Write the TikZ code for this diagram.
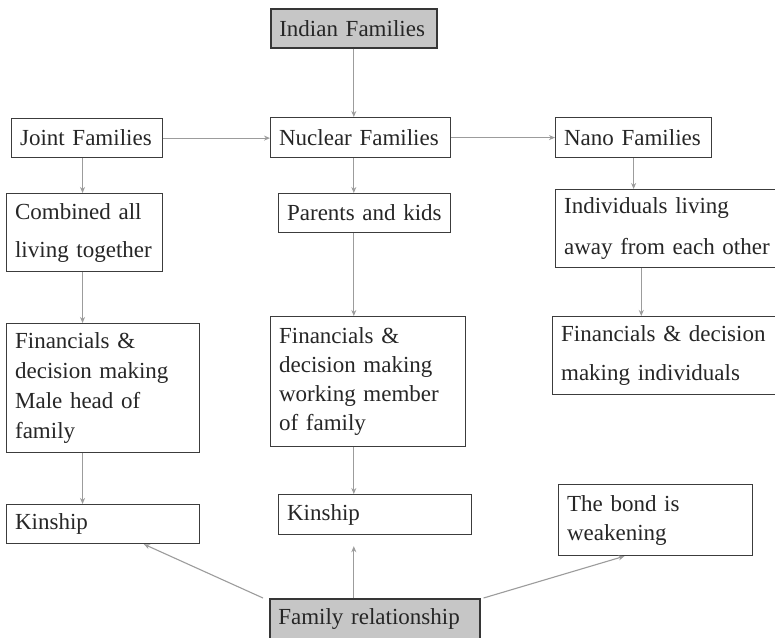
\documentclass[tikz,border=0pt]{standalone}
\usepackage{fontspec}
\setmainfont{Liberation Serif}[WordSpace=0.8]
\usetikzlibrary{arrows.meta,calc}
\definecolor{boxc}{HTML}{3C3C3C}
\definecolor{linec}{HTML}{9C9C9C}
\definecolor{fillg}{HTML}{C6C6C6}
\definecolor{txt}{HTML}{262626}
\tikzset{
  box/.style={draw=boxc, line width=1.2pt, fill=white, inner xsep=8.5pt, inner ysep=2pt,
    align=left, anchor=north west, text=txt, font=\fontsize{23}{30}\selectfont},
  graybox/.style={box, fill=fillg, line width=1.6pt, draw=boxc!90!black},
  arr/.style={draw=linec, line width=1.1pt, -{Stealth[length=6pt,width=5pt]}}
}
\begin{document}
\begin{tikzpicture}[x=1pt,y=-1pt]
\useasboundingbox (0,0) rectangle (775,637);
\fill[white] (0,0) rectangle (775,637);

\node[graybox, text width=149pt, minimum height=39pt] (in) at (270,8) {Indian Families};
\node[box, text width=134pt, minimum height=39pt] (jf) at (11,118) {Joint Families};
\node[box, text width=163pt, minimum height=40pt] (nf) at (270,117) {Nuclear Families};
\node[box, text width=139pt, minimum height=40pt] (nn) at (555,117) {Nano Families};

\node[box, text width=139pt, minimum height=78pt, font=\fontsize{23}{38}\selectfont] (cb) at (6,193) {Combined all\\living together};
\node[box, text width=155pt, minimum height=39pt] (pk) at (278,193) {Parents and kids};
\node[box, text width=215pt, minimum height=78pt, font=\fontsize{23}{41}\selectfont] (ind) at (555,189) {Individuals living\\away from each other};

\node[box, text width=176pt, minimum height=129pt] (fl) at (6,323) {Financials \&\\decision making\\Male head of\\family};
\node[box, text width=178pt, minimum height=130pt, font=\fontsize{23}{29}\selectfont] (fm) at (270,316) {Financials \&\\decision making\\working member\\of family};
\node[box, text width=215pt, minimum height=78pt, font=\fontsize{23}{39}\selectfont] (fr) at (552,316) {Financials \& decision\\making individuals};

\node[box, text width=176pt, minimum height=39pt] (kl) at (6,504) {Kinship};
\node[box, text width=176pt, minimum height=40pt] (km) at (278,494) {Kinship};
\node[box, text width=177pt, minimum height=71pt, font=\fontsize{23}{29}\selectfont] (bd) at (558,484) {The bond is\\weakening};

\node[graybox, text width=193pt, minimum height=40pt] (rel) at (269,598) {Family relationship};

\coordinate (lx) at ($(jf.south west)!0.47!(jf.south east)$);
\coordinate (rx) at ($(ind.south west)!0.37!(ind.south east)$);

\draw[arr] (in.south) -- (in.south |- nf.north);
\draw[arr] (jf.east) -- (jf.east -| nf.west);
\draw[arr] (nf.east) -- (nf.east -| nn.west);

\draw[arr] (lx) -- (lx |- cb.north);
\draw[arr] (cb.south -| lx) -- (fl.north -| lx);
\draw[arr] (fl.south -| lx) -- (kl.north -| lx);

\draw[arr] (nf.south -| in.south) -- (pk.north -| in.south);
\draw[arr] (pk.south -| in.south) -- (fm.north -| in.south);
\draw[arr] (fm.south -| in.south) -- (km.north -| in.south);

\draw[arr] (nn.south) -- (nn.south |- ind.north);
\draw[arr] (rx) -- (rx |- fr.north);

\draw[arr] (rel.north -| in.south) -- ([yshift=-11pt]km.south -| in.south);
\draw[arr] ([xshift=-6pt]rel.north west) -- ($(kl.south west)!0.71!(kl.south east)$);
\draw[arr] ([xshift=3pt]rel.north east) -- ($(bd.south west)!0.34!(bd.south east)$);
\end{tikzpicture}
\end{document}
